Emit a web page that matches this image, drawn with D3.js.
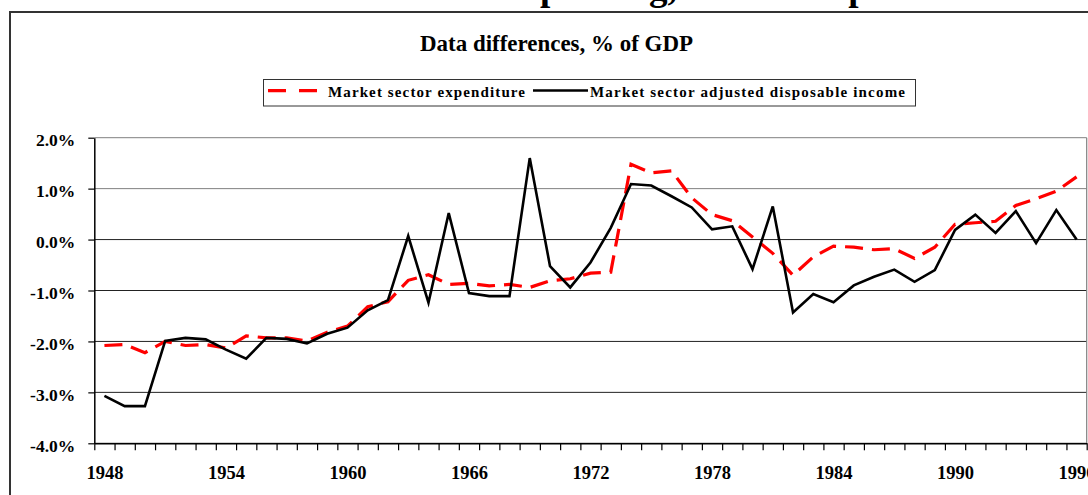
<!DOCTYPE html>
<html>
<head>
<meta charset="utf-8">
<script src="https://cdn.jsdelivr.net/npm/d3@7"></script>
<style>
  html, body { margin: 0; padding: 0; background: #fff; overflow: hidden; }
  text { font-family: "Liberation Serif", "Times New Roman", serif; font-weight: bold; fill: #000; }
</style>
</head>
<body>
<div class="chart"></div>
<script>
// Data (% of GDP)
const years = d3.range(1948, 1997);
const expenditure = [
  -2.08, -2.06, -2.22, -2.00, -2.08, -2.06, -2.13, -1.89, -1.93, -1.93,
  -1.99, -1.82, -1.70, -1.32, -1.22, -0.80, -0.69, -0.88, -0.86, -0.91,
  -0.88, -0.94, -0.81, -0.77, -0.66, -0.64, 1.48, 1.31, 1.35, 0.82,
  0.49, 0.37, 0.05, -0.27, -0.70, -0.34, -0.13, -0.15, -0.20, -0.18,
  -0.37, -0.15, 0.30, 0.33, 0.36, 0.67, 0.80, 0.95, 1.23
];
const income = [
  -3.07, -3.27, -3.27, -1.99, -1.93, -1.96, -2.16, -2.34, -1.93, -1.95,
  -2.04, -1.85, -1.73, -1.39, -1.19, 0.07, -1.24, 0.52, -1.05, -1.11,
  -1.11, 1.60, -0.52, -0.94, -0.45, 0.23, 1.09, 1.06, 0.85, 0.63,
  0.20, 0.26, -0.58, 0.65, -1.43, -1.07, -1.23, -0.90, -0.73, -0.59,
  -0.83, -0.60, 0.19, 0.49, 0.13, 0.56, -0.07, 0.58, 0.00
];
const yTicks = [2, 1, 0, -1, -2, -3, -4];
const xLabelYears = [1948, 1954, 1960, 1966, 1972, 1978, 1984, 1990, 1996];
const seriesNames = ['Market sector expenditure', 'Market sector adjusted disposable income'];

const pctFormat = d => d3.format('.1f')(d).replace('\u2212', '-') + '%';

function drawChart() {
  const width = 1088, height = 495;
  const plot = {left: 94.3, right: 1086.7, top: 137.7, bottom: 443.3};

  const svg = d3.select('.chart').append('svg')
    .attr('width', width).attr('height', height);

  // category axis: one band per year, points in the middle
  const x = d3.scaleLinear().domain([years[0] - 0.5, years[years.length - 1] + 0.5])
    .range([plot.left, plot.right]);
  const y = d3.scaleLinear().domain([-4, 2]).range([plot.bottom, plot.top]);

  // page title, mostly above the top of the window (only descenders show)
  svg.append('text')
    .attr('x', 294).attr('y', 0.3)
    .style('font-size', '37px')
    .text('Market sector spending, income & profits');

  // outer frame
  svg.append('rect')
    .attr('x', 10).attr('y', 12).attr('width', 1120).attr('height', 540)
    .attr('fill', 'none').attr('stroke', '#333').attr('stroke-width', 2);

  // chart title
  svg.append('text')
    .attr('x', 420).attr('y', 51)
    .attr('textLength', 273).attr('lengthAdjust', 'spacingAndGlyphs')
    .style('font-size', '24px')
    .text('Data differences, % of GDP');

  // legend
  const legend = svg.append('g').attr('class', 'legend');
  legend.append('rect')
    .attr('x', 263.5).attr('y', 79.5).attr('width', 652).attr('height', 26.5)
    .attr('fill', '#fff').attr('stroke', '#333').attr('stroke-width', 1);
  legend.append('line')
    .attr('x1', 268).attr('x2', 321).attr('y1', 90.7).attr('y2', 90.7)
    .attr('stroke', '#ff0000').attr('stroke-width', 3.2).attr('stroke-dasharray', '18,13');
  legend.append('text')
    .attr('x', 328).attr('y', 96.5)
    .attr('textLength', 197)
    .style('font-size', '15px')
    .text(seriesNames[0]);
  legend.append('line')
    .attr('x1', 533).attr('x2', 588).attr('y1', 90.5).attr('y2', 90.5)
    .attr('stroke', '#000').attr('stroke-width', 2.6);
  legend.append('text')
    .attr('x', 590).attr('y', 96.5)
    .attr('textLength', 315)
    .style('font-size', '15px')
    .text(seriesNames[1]);

  // gridlines
  svg.append('g').attr('class', 'grid')
    .selectAll('line').data(yTicks).enter().append('line')
    .attr('x1', plot.left).attr('x2', plot.right)
    .attr('y1', d => y(d)).attr('y2', d => y(d))
    .attr('stroke', d => d >= 1 ? '#808080' : '#222').attr('stroke-width', 1);

  // right edge of the plot area
  svg.append('line')
    .attr('x1', plot.right).attr('x2', plot.right)
    .attr('y1', plot.top).attr('y2', plot.bottom)
    .attr('stroke', '#808080').attr('stroke-width', 1.2);

  // Y axis
  const yAxis = d3.axisLeft(y).tickValues(yTicks).tickFormat(pctFormat)
    .tickSizeInner(6).tickSizeOuter(0).tickPadding(13);
  const yAxisDraw = svg.append('g').attr('class', 'y axis')
    .attr('transform', `translate(${plot.left},0)`)
    .call(yAxis);
  yAxisDraw.select('.domain').attr('stroke', '#000').attr('stroke-width', 1.5);
  yAxisDraw.selectAll('.tick line').attr('stroke', '#000').attr('stroke-width', 1.2);
  yAxisDraw.selectAll('.tick text')
    .attr('dy', '0.45em')
    .style('font-size', '17.5px').style('font-family', '"Liberation Serif", serif')
    .style('font-weight', 'bold').attr('fill', '#000');

  // X axis: ticks between the years
  const boundaries = years.map(d => d - 0.5).concat([years[years.length - 1] + 0.5]);
  const xTickAxis = d3.axisBottom(x).tickValues(boundaries).tickFormat('')
    .tickSizeInner(7).tickSizeOuter(0);
  const xTickDraw = svg.append('g').attr('class', 'x axis')
    .attr('transform', `translate(0,${plot.bottom})`)
    .call(xTickAxis);
  xTickDraw.select('.domain').attr('stroke', '#000').attr('stroke-width', 1.5);
  xTickDraw.selectAll('.tick line').attr('stroke', '#000').attr('stroke-width', 1.2);

  const xLabelAxis = d3.axisBottom(x).tickValues(xLabelYears).tickFormat(d3.format('d'))
    .tickSize(0).tickPadding(23);
  const xLabelDraw = svg.append('g').attr('class', 'x labels')
    .attr('transform', `translate(0,${plot.bottom})`)
    .call(xLabelAxis);
  xLabelDraw.select('.domain').remove();
  xLabelDraw.selectAll('.tick text')
    .style('font-size', '18.5px').style('font-family', '"Liberation Serif", serif')
    .style('font-weight', 'bold').attr('fill', '#000');

  // lines
  const lineGen = d3.line()
    .x((d, i) => x(years[i]))
    .y(d => y(d));

  svg.append('path')
    .attr('class', 'line-series expenditure')
    .attr('d', lineGen(expenditure))
    .attr('fill', 'none').attr('stroke', '#ff0000')
    .attr('stroke-width', 3.2).attr('stroke-dasharray', '18,9');

  svg.append('path')
    .attr('class', 'line-series income')
    .attr('d', lineGen(income))
    .attr('fill', 'none').attr('stroke', '#000')
    .attr('stroke-width', 2.6).attr('stroke-linejoin', 'miter');
}

drawChart();
</script>
</body>
</html>
